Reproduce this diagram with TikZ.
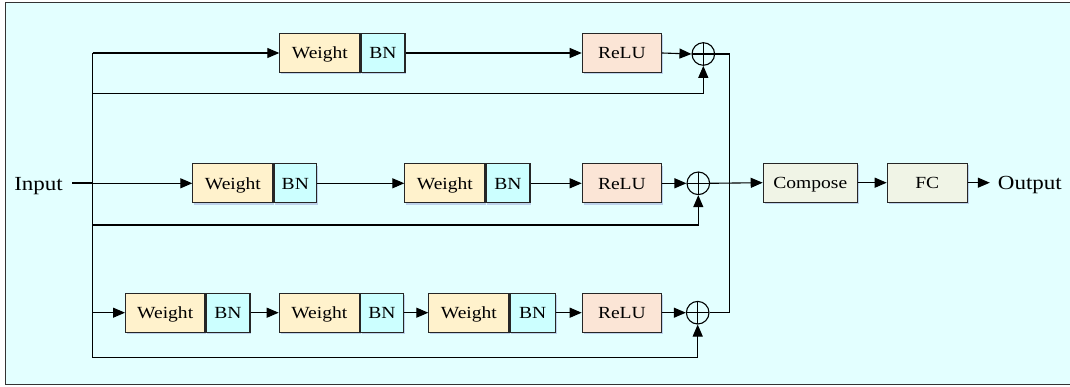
\documentclass[tikz,border=0pt]{standalone}
\usepackage{fontspec}
\setmainfont{Liberation Serif}[FakeStretch=1.15]
\usetikzlibrary{arrows.meta,shadows}
\definecolor{bgcyan}{HTML}{E3FFFF}
\definecolor{wfill}{HTML}{FFF2CC}
\definecolor{bnfill}{HTML}{CCFFFF}
\definecolor{relufill}{HTML}{FBE5D6}
\definecolor{outfill}{HTML}{F0F4E6}
\definecolor{framecol}{HTML}{333333}
\tikzset{
  blk/.style={draw=black!85, line width=1.1pt, minimum height=39pt, inner sep=0pt,
    text height=11.5pt, text depth=0pt,
    anchor=west, font=\fontsize{17}{19}\selectfont,
    drop shadow={shadow xshift=1.5pt, shadow yshift=-2pt, opacity=0.25, fill=blue!40!gray}},
  wbox/.style={blk, fill=wfill, minimum width=80pt},
  bnbox/.style={blk, fill=bnfill, minimum width=44pt},
  relubox/.style={blk, fill=relufill, minimum width=79.3pt},
  obox/.style={blk, fill=outfill},
  opl/.style={circle, draw=black, line width=1.1pt, minimum size=22.6pt, inner sep=0pt,
    path picture={\draw[line width=1.1pt] (path picture bounding box.north) -- (path picture bounding box.south)
      (path picture bounding box.west) -- (path picture bounding box.east);}},
  ln/.style={line width=1.1pt, draw=black},
  arr/.style={ln, -{Triangle[length=12pt,width=10pt]}},
  lbl/.style={font=\fontsize{20}{22}\selectfont, inner sep=0pt, text height=13.5pt, text depth=0pt}
}
\begin{document}
\begin{tikzpicture}[x=1pt,y=-1pt]
\useasboundingbox (0,0) rectangle (1070,387);
\begin{scope}
\clip (0,0) rectangle (1070,387);
\draw[fill=bgcyan, draw=framecol, line width=1.6pt] (5.3,2.7) rectangle (1080,384.3);
\end{scope}

% labels
\node[lbl, anchor=east] (in) at (63,183.3) {Input};

% branch 1
\node[wbox] (a1) at (279.3,53) {Weight};
\node[bnbox] (a1b) at (a1.east) {BN};
\node[relubox] (ar) at (581.7,53) {ReLU};
\node[opl] (o1) at (703.3,54) {};

% branch 2
\node[wbox] (b1) at (192.3,183.3) {Weight};
\node[bnbox, minimum width=42.7pt] (b1b) at (b1.east) {BN};
\node[wbox] (b2) at (404.3,183.3) {Weight};
\node[bnbox] (b2b) at (b2.east) {BN};
\node[relubox] (br) at (581.7,183.3) {ReLU};
\node[opl] (o2) at (698.3,183.3) {};

% branch 3
\node[wbox, minimum width=79.3pt] (c1) at (125,312.7) {Weight};
\node[bnbox] (c1b) at (c1.east) {BN};
\node[wbox] (c2) at (278.7,312.7) {Weight};
\node[bnbox, minimum width=43pt] (c2b) at (c2.east) {BN};
\node[wbox] (c3) at (428.3,312.7) {Weight};
\node[bnbox, minimum width=45.4pt] (c3b) at (c3.east) {BN};
\node[relubox] (cr) at (581.7,312.7) {ReLU};
\node[opl] (o3) at (697.7,312.7) {};

% head
\node[obox, minimum width=94pt] (comp) at (762.7,182.7) {Compose};
\node[obox, minimum width=80pt] (fc) at (886.7,182.7) {FC};
\node[lbl, anchor=west] (out) at (997.7,182.7) {Output};

% routing points
\coordinate (sp) at (92.7,183.3);
\coordinate (vt) at (92.7,53);
\coordinate (vb) at (92.7,357.7);
\coordinate (s1) at (92.7,93.5);
\coordinate (s2) at (92.7,225);
\coordinate (rt) at (729.3,54);
\coordinate (rb) at (729.3,312.7);

% input stem and split
\draw[line width=2pt] (in.east) ++(9pt,0) -- (sp);
\draw[ln] (vt) -- (vb);

% branch 1 connectors
\draw[arr] (vt) -- (a1.west);
\draw[arr] (a1b.east) -- (ar.west);
\draw[arr] (ar.east) -- (o1.west);
\draw[arr] (s1) -| (o1.south);

% branch 2 connectors
\draw[arr] (sp) -- (b1.west);
\draw[arr] (b1b.east) -- (b2.west);
\draw[arr] (b2b.east) -- (br.west);
\draw[arr] (br.east) -- (o2.west);
\draw[arr] (s2) -| (o2.south);

% branch 3 connectors
\draw[arr] (c1 -| vt) -- (c1.west);
\draw[arr] (c1b.east) -- (c2.west);
\draw[arr] (c2b.east) -- (c3.west);
\draw[arr] (c3b.east) -- (cr.west);
\draw[arr] (cr.east) -- (o3.west);
\draw[arr] (vb) -| (o3.south);

% merge and head
\draw[ln] (o1.east) -- (rt) -- (rb) -- (o3.east);
\draw[arr] (o2.east) -- (comp.west);
\draw[arr] (comp.east) -- (fc.west);
\draw[arr] (fc.east) -- ++(22pt,0);
\end{tikzpicture}
\end{document}
